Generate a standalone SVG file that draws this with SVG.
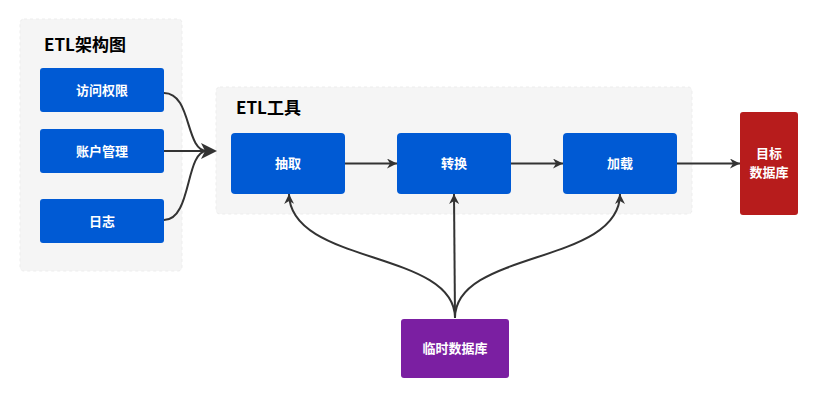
<svg xmlns="http://www.w3.org/2000/svg" width="821" height="401" viewBox="0 0 821 401">
<defs>
<marker id="arr" viewBox="0 0 10 10" refX="10" refY="5" markerWidth="11" markerHeight="10" markerUnits="userSpaceOnUse" orient="auto">
<path d="M0,0 L10,5 L0,10 L3,5 Z" fill="#333333"/>
</marker>
<style>
.cont{fill:#F5F5F5;stroke:#EDEDED;stroke-dasharray:3 3;stroke-width:1}
.title{font-family:"Noto Sans CJK SC","Noto Sans",sans-serif;font-weight:bold;font-size:17px;fill:#000}
.box{fill:#005AD4;stroke:none}
.lbl{font-family:"Noto Sans CJK SC","Noto Sans",sans-serif;font-weight:bold;font-size:13px;fill:#fff;text-anchor:middle}
.edge{fill:none;stroke:#333333;stroke-width:2}
</style>
</defs>
<g id="container-arch">
<rect class="cont" x="20" y="19" width="162" height="252" rx="4"/>
<text class="title" x="44" y="51">ETL架构图</text>
</g>
<g id="container-tool">
<rect class="cont" x="216" y="87" width="476" height="127" rx="4"/>
<text class="title" x="236" y="114">ETL工具</text>
</g>
<g id="node-access"><rect class="box" x="40" y="68" width="124" height="44" rx="3"/><text class="lbl" x="102" y="95">访问权限</text></g>
<g id="node-account"><rect class="box" x="40" y="129" width="124" height="44" rx="3"/><text class="lbl" x="102" y="156">账户管理</text></g>
<g id="node-log"><rect class="box" x="40" y="199" width="124" height="44" rx="3"/><text class="lbl" x="102" y="226">日志</text></g>
<g id="node-extract"><rect class="box" x="231" y="133" width="114" height="61" rx="4"/><text class="lbl" x="288" y="168">抽取</text></g>
<g id="node-transform"><rect class="box" x="397" y="133" width="114" height="61" rx="4"/><text class="lbl" x="454" y="168">转换</text></g>
<g id="node-load"><rect class="box" x="563" y="133" width="114" height="61" rx="4"/><text class="lbl" x="620" y="168">加载</text></g>
<g id="node-target"><rect x="740" y="112" width="58" height="103" rx="3" fill="#B71C1C"/><text class="lbl" x="769" y="158">目标</text><text class="lbl" x="769" y="177">数据库</text></g>
<g id="node-temp"><rect x="401" y="319" width="108" height="59" rx="3" fill="#7B1FA2"/><text class="lbl" x="455" y="353">临时数据库</text></g>
<g id="connectors">
<path class="edge" d="M164,93 C192,93 185,151 207,151"/>
<path class="edge" d="M164,151 L207,151"/>
<path class="edge" d="M164,220 C192,220 185,151 207,151"/>
<path d="M217,151 L201,143 L205,151 L201,159 Z" fill="#333333"/>
<path class="edge" d="M345,163.5 L397,163.5" marker-end="url(#arr)"/>
<path class="edge" d="M511,163.5 L563,163.5" marker-end="url(#arr)"/>
<path class="edge" d="M677,163.5 L740,163.5" marker-end="url(#arr)"/>
<path class="edge" d="M455,318 C455,250 290,265 289,194" marker-end="url(#arr)"/>
<path class="edge" d="M455,318 L454,194" marker-end="url(#arr)"/>
<path class="edge" d="M455,318 C455,250 620,265 620,194" marker-end="url(#arr)"/>
</g>
</svg>
